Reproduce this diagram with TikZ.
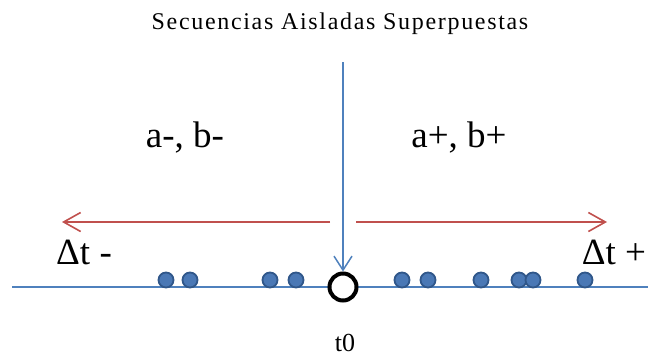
\documentclass[tikz,border=0pt]{standalone}
\usepackage{fontspec}
\setmainfont{Liberation Serif}
\usetikzlibrary{arrows.meta,positioning}
\definecolor{axisblue}{HTML}{4F81BD}
\definecolor{arrred}{HTML}{C0504D}
\definecolor{dotblue}{HTML}{4A78B5}
\definecolor{dotedge}{HTML}{30578A}

\begin{document}
\begin{tikzpicture}[
  x=1pt, y=-1pt,
  axis/.style={axisblue, line width=1.5pt},
  varr/.style={-{Straight Barb[length=14pt, width=18pt, line width=1.5pt]}, axisblue, line width=1.5pt},
  harr/.style={-{Straight Barb[length=17pt, width=19pt, line width=1.6pt]}, arrred, line width=1.6pt},
  seq/.style={circle, fill=dotblue, draw=dotedge, line width=1.8pt, minimum size=15pt, inner sep=0pt},
  origin/.style={circle, draw=black, fill=white, line width=4pt, minimum size=27pt, inner sep=0pt},
  lbl/.style={anchor=base, inner sep=0pt, font=\fontsize{37}{40}\selectfont}
]
\useasboundingbox (0,0) rectangle (648,357);

% titulo
\node[anchor=base, inner sep=0pt, font=\fontsize{24}{26}\selectfont\addfontfeature{LetterSpace=7}] (title) at (340,29) {Secuencias Aisladas Superpuestas};

% eje temporal
\coordinate (axL) at (12,287);
\coordinate (axR) at (648,287);
\draw[axis] (axL) -- (axR);

% secuencias
\foreach \x [count=\i] in {166,190,270,296,402,428,481,519,533,585}
  \node[seq] (d\i) at (\x,280) {};

\node[origin] (t0c) at (343,287) {};
\coordinate (top) at (343,62);
\draw[varr] (top) -- (t0c.north);

% direcciones
\coordinate (lS) at (330,222); \coordinate (lE) at (62,222);
\coordinate (rS) at (356,222); \coordinate (rE) at (607,222);
\draw[harr] (lS) -- (lE);
\draw[harr] (rS) -- (rE);

\node[lbl] (abm) at (185,147) {a-, b-};
\node[lbl] (abp) at (459,147) {a+, b+};
\node[lbl] (dtm) at (84,264) {Δt -};
\node[lbl] (dtp) at (614,264) {Δt +};
\node[anchor=base, inner sep=0pt, font=\fontsize{26}{30}\selectfont] (t0) at (345,351) {t0};
\end{tikzpicture}
\end{document}
